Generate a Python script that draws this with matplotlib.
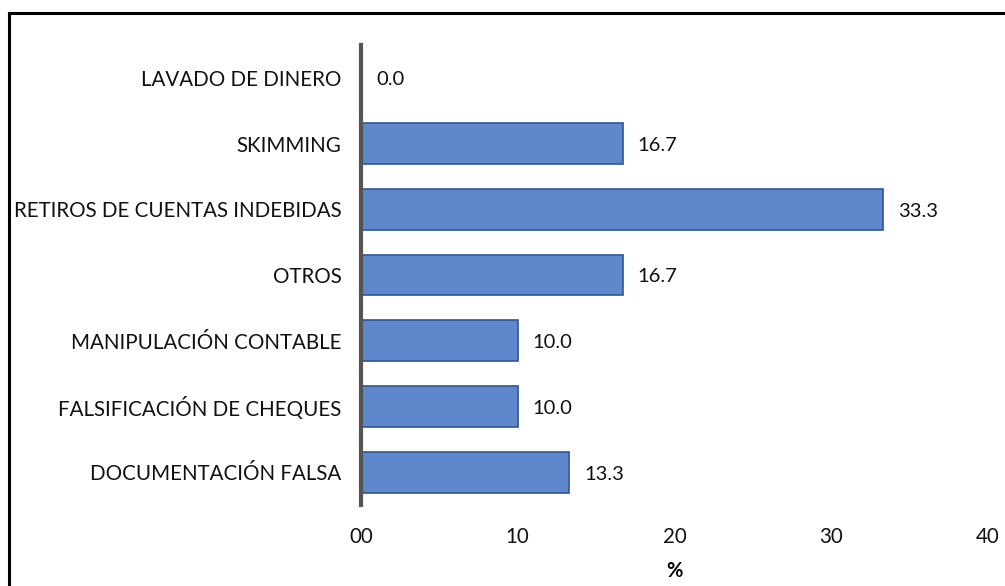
import matplotlib.pyplot as plt
from matplotlib.lines import Line2D

# categories from top to bottom as in the picture
categorias = ['LAVADO DE DINERO', 'SKIMMING', 'RETIROS DE CUENTAS INDEBIDAS', 'OTROS',
              'MANIPULACIÓN CONTABLE', 'FALSIFICACIÓN DE CHEQUES', 'DOCUMENTACIÓN FALSA']
valores = [0.0, 16.7, 33.3, 16.7, 10.0, 10.0, 13.3]
ticks_x = [0, 10, 20, 30, 40]
etiquetas_x = ['00', '10', '20', '30', '40']

plt.rcParams['font.family'] = ['Lato', 'DejaVu Sans']

fig = plt.figure(figsize=(10.05, 5.86), dpi=100)
ax = fig.add_axes([0.3592, 0.1382, 0.6238, 0.785])

pos = list(range(len(categorias)))
ax.barh(pos, valores, height=0.62, color='#5f87cb', edgecolor='#2f5597', linewidth=1.2, zorder=2)

for y, v in zip(pos, valores):
    ax.text(v + 0.95, y + 0.03, f'{v:.1f}', va='center', ha='left', fontsize=14.5, color='#111111')

ax.set_ylim(len(categorias) - 0.5, -0.5)
ax.set_xlim(0, 40)
ax.set_yticks(pos)
ax.set_yticklabels(categorias, fontsize=14.8, color='#111111')
ax.set_xticks(ticks_x)
ax.set_xticklabels(etiquetas_x, fontsize=14.8, color='#111111')
ax.tick_params(axis='both', length=0)
ax.tick_params(axis='y', pad=14)
ax.tick_params(axis='x', pad=16)
ax.set_xlabel('%', fontsize=14.5, fontweight='bold', labelpad=10)

for s in ['top', 'right', 'bottom']:
    ax.spines[s].set_visible(False)
ax.spines['left'].set_color('#555555')
ax.spines['left'].set_linewidth(3)

# figure frame (only top and left visible in the picture)
fig.add_artist(Line2D([9 / 1005, 9 / 1005], [0, 1 - 13 / 586], transform=fig.transFigure, color='black', lw=2.2))
fig.add_artist(Line2D([9 / 1005, 1], [1 - 13 / 586, 1 - 13 / 586], transform=fig.transFigure, color='black', lw=2.2))

fig.savefig('out.png', dpi=100)
